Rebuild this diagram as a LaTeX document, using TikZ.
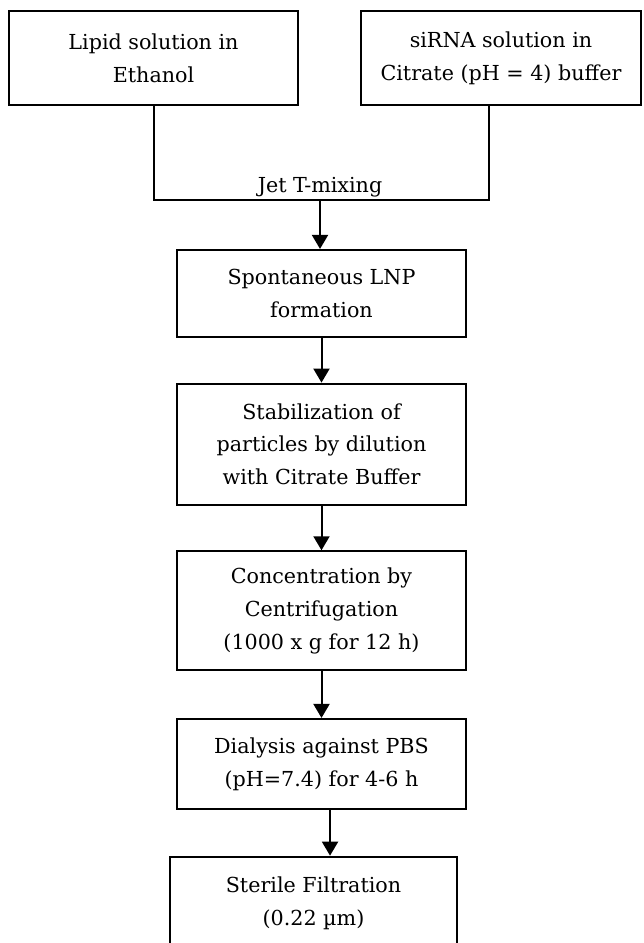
\documentclass[tikz,border=0pt]{standalone}
\usepackage{fontspec}
\setmainfont{DejaVu Serif}
\usetikzlibrary{positioning,calc,arrows.meta}

\begin{document}
\begin{tikzpicture}[x=0.75pt, y=-0.75pt, node distance=33.4pt,
    box/.style={draw, line width=1.6pt, align=center, inner sep=2pt,
      font=\fontsize{15.5}{24.5}\selectfont, minimum width=216.75pt},
    lbl/.style={font=\fontsize{15.5}{24.5}\selectfont, inner sep=0pt},
    link/.style={line width=1.5pt},
    arr/.style={link, -{Triangle[width=12pt,length=10.5pt]}}]
    \useasboundingbox (0,0) rectangle (643,943);
    \node[box, minimum height=70.5pt] (lipid) at (153.5,58) {Lipid solution in\\Ethanol};
    \node[box, minimum height=70.5pt, minimum width=210pt] (sirna) at (501,58) {siRNA solution in\\Citrate (pH = 4) buffer};
    \coordinate (join) at (320,200);
    \node[lbl, anchor=base] (jet) at (320,192) {Jet T-mixing};
    \node[box, minimum height=65.25pt] (spont) at (321.5,293.5) {Spontaneous LNP\\formation};
    \node[box, minimum height=90.75pt, below=of spont] (stab) {Stabilization of\\particles by dilution\\with Citrate Buffer};
    \node[box, minimum height=89.25pt, below=of stab] (conc) {Concentration by\\Centrifugation\\(1000 x g for 12 h)};
    \node[box, minimum height=67.5pt, below=34.9pt of conc] (dial) {Dialysis against PBS\\(pH=7.4) for 4-6 h};
    \node[box, minimum height=70pt, minimum width=215.25pt, below=34.2pt of dial, xshift=-6pt] (steril) {Sterile Filtration\\(0.22 µm)};
    \draw[link] (lipid.south) |- (join) -| ($(sirna.south)+(-12,0)$);
    \draw[arr] (join) -- (join |- spont.north);
    \draw[arr] (spont) -- (stab);
    \draw[arr] (stab) -- (conc);
    \draw[arr] (conc) -- (dial);
    \coordinate (dout) at ([xshift=6.4pt]dial.south);
    \draw[arr] (dout) -- (dout |- steril.north);
  \end{tikzpicture}
\end{document}
